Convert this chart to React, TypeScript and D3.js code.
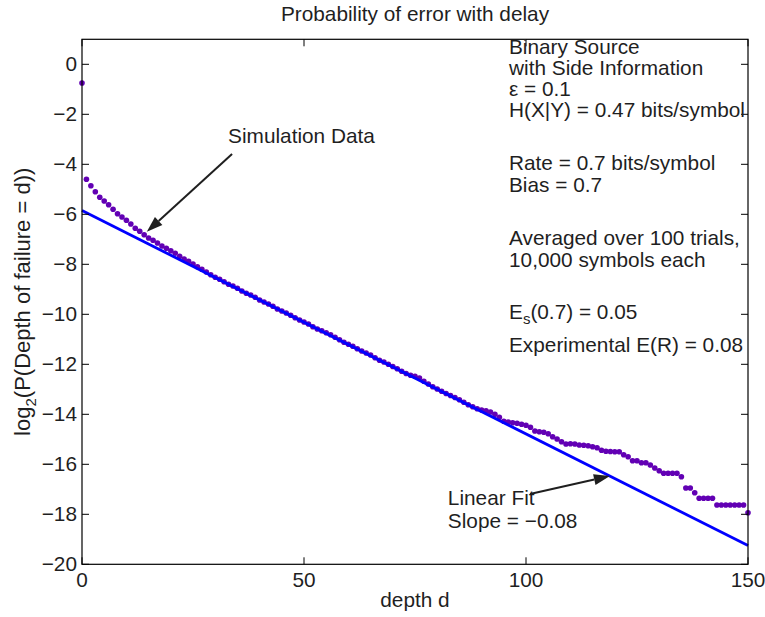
import * as d3 from "d3";

const W = 765;
const H = 617;

// depth d = 0..150, log2 P(depth of failure = d)
const depth = d3.range(0, 151);
const logProb = [
  -0.75,
  -4.6, -4.86, -5.1, -5.32, -5.47, -5.62, -5.8, -5.98, -6.11, -6.24,
  -6.39, -6.56, -6.68, -6.82, -6.95, -7.04, -7.15, -7.27, -7.36, -7.46,
  -7.56, -7.68, -7.79, -7.88, -7.99, -8.1, -8.2, -8.31, -8.42, -8.52,
  -8.6, -8.7, -8.8, -8.87, -8.96, -9.07, -9.16, -9.23, -9.32, -9.43,
  -9.51, -9.59, -9.68, -9.79, -9.87, -9.95, -10.04, -10.14, -10.23, -10.31,
  -10.39, -10.5, -10.59, -10.66, -10.74, -10.82, -10.92, -11.02, -11.12, -11.2,
  -11.28, -11.38, -11.47, -11.55, -11.63, -11.74, -11.84, -11.91, -12.0, -12.09,
  -12.18, -12.28, -12.37, -12.44, -12.48, -12.55, -12.68, -12.79, -12.9, -12.99,
  -13.08, -13.17, -13.25, -13.33, -13.42, -13.52, -13.62, -13.7, -13.78, -13.83,
  -13.86, -13.91, -14.0, -14.12, -14.28, -14.31, -14.34, -14.36, -14.4, -14.44,
  -14.52, -14.67, -14.7, -14.72, -14.78, -14.9, -14.99, -15.1, -15.19, -15.18,
  -15.19, -15.23, -15.24, -15.26, -15.3, -15.34, -15.44, -15.48, -15.49, -15.5,
  -15.5, -15.62, -15.7, -15.86, -15.86, -15.94, -15.94, -16.03, -16.15, -16.26,
  -16.36, -16.36, -16.36, -16.36, -16.5, -16.95, -16.95, -17.14, -17.36, -17.36,
  -17.36, -17.36, -17.63, -17.63, -17.63, -17.63, -17.63, -17.63, -17.63, -17.94,
];

// linear fit end points
const fitDepth = [0, 150];
const fitValue = [-5.85, -19.25];

const xTicks = [0, 50, 100, 150];
const yTicks = [0, -2, -4, -6, -8, -10, -12, -14, -16, -18, -20];

const infoLines = [
  "Binary Source",
  "with Side Information",
  "\u03b5 = 0.1",
  "H(X|Y) = 0.47 bits/symbol",
  "",
  "Rate = 0.7 bits/symbol",
  "Bias = 0.7",
  "",
  "Averaged over 100 trials,",
  "10,000 symbols each",
];
const infoBaselines = [54, 75, 96, 117, 0, 170, 192, 0, 245, 267];

const FONT = "'Liberation Sans', Arial, Helvetica, sans-serif";
const FS = 20.8;
const INK = "#1f1f1f";

const x = d3.scaleLinear().domain([0, 150]).range([82, 748]);
const y = d3.scaleLinear().domain([-20, 1]).range([564.3, 39.3]);

const fmt = (v: number) => (v < 0 ? "\u2212" + Math.abs(v) : String(v));

function Arrow({ x1, y1, x2, y2 }: { x1: number; y1: number; x2: number; y2: number }) {
  const ang = Math.atan2(y2 - y1, x2 - x1);
  const len = 16;
  const half = 5.5;
  const bx = x2 - len * Math.cos(ang);
  const by = y2 - len * Math.sin(ang);
  const px = -Math.sin(ang) * half;
  const py = Math.cos(ang) * half;
  return (
    <g>
      <line x1={x1} y1={y1} x2={bx} y2={by} stroke={INK} strokeWidth={2} />
      <polygon
        points={`${x2},${y2} ${bx + px},${by + py} ${bx - px},${by - py}`}
        fill={INK}
      />
    </g>
  );
}

export default function App() {
  const [x0, x1] = x.range();
  const [y0, y1] = y.range();
  const line = d3
    .line<number>()
    .x((_, i) => x(fitDepth[i]))
    .y((v) => y(v));
  const tk = 7;

  return (
    <svg
      width={W}
      height={H}
      style={{ position: "absolute", left: 0, top: 0, background: "#fff" }}
      fontFamily={FONT}
      fontSize={FS}
      fill={INK}
    >
      <rect x={0} y={0} width={W} height={H} fill="#fff" />

      {/* markers */}
      <g fill="#6200b4">
        {logProb.map((v, i) => (
          <circle key={i} cx={x(depth[i])} cy={y(v)} r={2.8} />
        ))}
      </g>

      {/* linear fit */}
      <path d={line(fitValue) ?? ""} stroke="#0000ff" strokeWidth={2.8} fill="none" />

      {/* box and ticks */}
      <rect
        x={x0}
        y={y1}
        width={x1 - x0}
        height={y0 - y1}
        fill="none"
        stroke="#000"
        strokeWidth={1.2}
      />
      <g stroke="#000" strokeWidth={1}>
        {xTicks.map((t) => (
          <g key={t}>
            <line x1={x(t)} x2={x(t)} y1={y0} y2={y0 - tk} />
            <line x1={x(t)} x2={x(t)} y1={y1} y2={y1 + tk} />
          </g>
        ))}
        {yTicks.map((t) => (
          <g key={t}>
            <line x1={x0} x2={x0 + tk} y1={y(t)} y2={y(t)} />
            <line x1={x1} x2={x1 - tk} y1={y(t)} y2={y(t)} />
          </g>
        ))}
      </g>

      {/* tick labels */}
      <g textAnchor="middle">
        {xTicks.map((t) => (
          <text key={t} x={x(t)} y={y0 + 23}>
            {fmt(t)}
          </text>
        ))}
      </g>
      <g textAnchor="end">
        {yTicks.map((t) => (
          <text key={t} x={x0 - 5} y={y(t) + 7}>
            {fmt(t)}
          </text>
        ))}
      </g>

      {/* title and axis labels */}
      <text x={(x0 + x1) / 2} y={21} textAnchor="middle">
        Probability of error with delay
      </text>
      <text x={(x0 + x1) / 2} y={607} textAnchor="middle">
        depth d
      </text>
      <text
        transform={`translate(30, ${(y0 + y1) / 2}) rotate(-90)`}
        textAnchor="middle"
        fontSize={22}
      >
        log
        <tspan fontSize={15} dy={6}>
          2
        </tspan>
        <tspan dy={-6}>(P(Depth of failure = d))</tspan>
      </text>

      {/* info text */}
      {infoLines.map((s, i) =>
        s ? (
          <text key={i} x={509} y={infoBaselines[i]}>
            {s}
          </text>
        ) : null
      )}
      <text x={509} y={319}>
        E
        <tspan fontSize={15} dy={5}>
          s
        </tspan>
        <tspan dy={-5}>(0.7) = 0.05</tspan>
      </text>
      <text x={509} y={352}>
        Experimental E(R) = 0.08
      </text>

      {/* annotations */}
      <text x={x(32.9)} y={y(-3.15)}>
        Simulation Data
      </text>
      <Arrow x1={x(33.8)} y1={y(-3.59)} x2={x(14.6)} y2={y(-6.7)} />
      <text x={x(82.4)} y={y(-17.63)}>
        Linear Fit
      </text>
      <text x={x(82.4)} y={y(-18.55)}>
        Slope = {"\u2212"}0.08
      </text>
      <Arrow x1={x(100.9)} y1={y(-17.19)} x2={x(118.9)} y2={y(-16.47)} />
    </svg>
  );
}
